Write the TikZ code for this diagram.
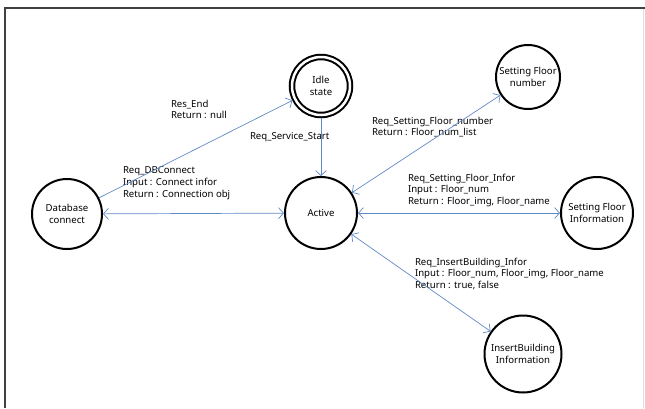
\documentclass[tikz,border=0pt]{standalone}
\usepackage{fontspec}
\setmainfont{Noto Sans}
\usetikzlibrary{arrows.meta}
\definecolor{linkblue}{RGB}{96,138,198}

\begin{document}
\begin{tikzpicture}[x=1pt, y=-1pt, font=\fontsize{9.6}{11.5}\selectfont,
    >={Straight Barb[length=5pt, width=11pt]}]
    \tikzstyle{every node} = [circle, draw, line width=2pt, inner sep=0pt, align=center, minimum size=70pt]
    \tikzstyle{note} = [rectangle, draw=none, minimum size=0pt, align=left, anchor=north west,
        font=\fontsize{9.6}{11.6}\selectfont]
    \tikzstyle{link} = [draw=linkblue, line width=0.7pt]

    \useasboundingbox (0, 0) rectangle (645, 408);
    \draw [line width=1.5pt, black!75] (5, 408) -- (5, 8) -- (645, 8);
    \draw [line width=0.8pt, black!12] (643, 9) -- (643, 408);

    \node (a) at (67, 214) {Database \\ connect};
    \node (b) at (321, 86) [minimum size=58pt, double, double distance=2.5pt, outer sep=3pt] {Idle \\ state};
    \node (c) at (321, 213) [minimum size=72pt] {Active};
    \node (d) at (528, 77) [minimum size=64pt] {Setting Floor \\ number};
    \node (e) at (597, 213) [minimum size=72pt] {Setting Floor \\ Information};
    \node (f) at (523, 354) [minimum size=77pt] {InsertBuilding \\ Information};

    \node (g) at (170, 99) [note] {Res\_End \\ Return : null};
    \node (h) at (249, 131) [note] {Req\_Service\_Start};
    \node (i) at (122, 166) [note] {Req\_DBConnect \\ Input : Connect infor \\ Return : Connection obj};
    \node (j) at (371, 116) [note] {Req\_Setting\_Floor\_number \\ Return : Floor\_num\_list};
    \node (k) at (407, 173) [note] {Req\_Setting\_Floor\_Infor \\ Input : Floor\_num \\ Return : Floor\_img, Floor\_name};
    \node (l) at (414, 257) [note] {Req\_InsertBuilding\_Infor \\ Input : Floor\_num, Floor\_img, Floor\_name \\ Return : true, false};

    \draw [link, ->] (a) -- (b);
    \draw [link, ->] (b) -- (c);
    \draw [link, <->] (a) -- (c);
    \draw [link, <->] (c) -- (d);
    \draw [link, <->] (c) -- (e);
    \draw [link, <->] (c) -- (f);
\end{tikzpicture}
\end{document}
